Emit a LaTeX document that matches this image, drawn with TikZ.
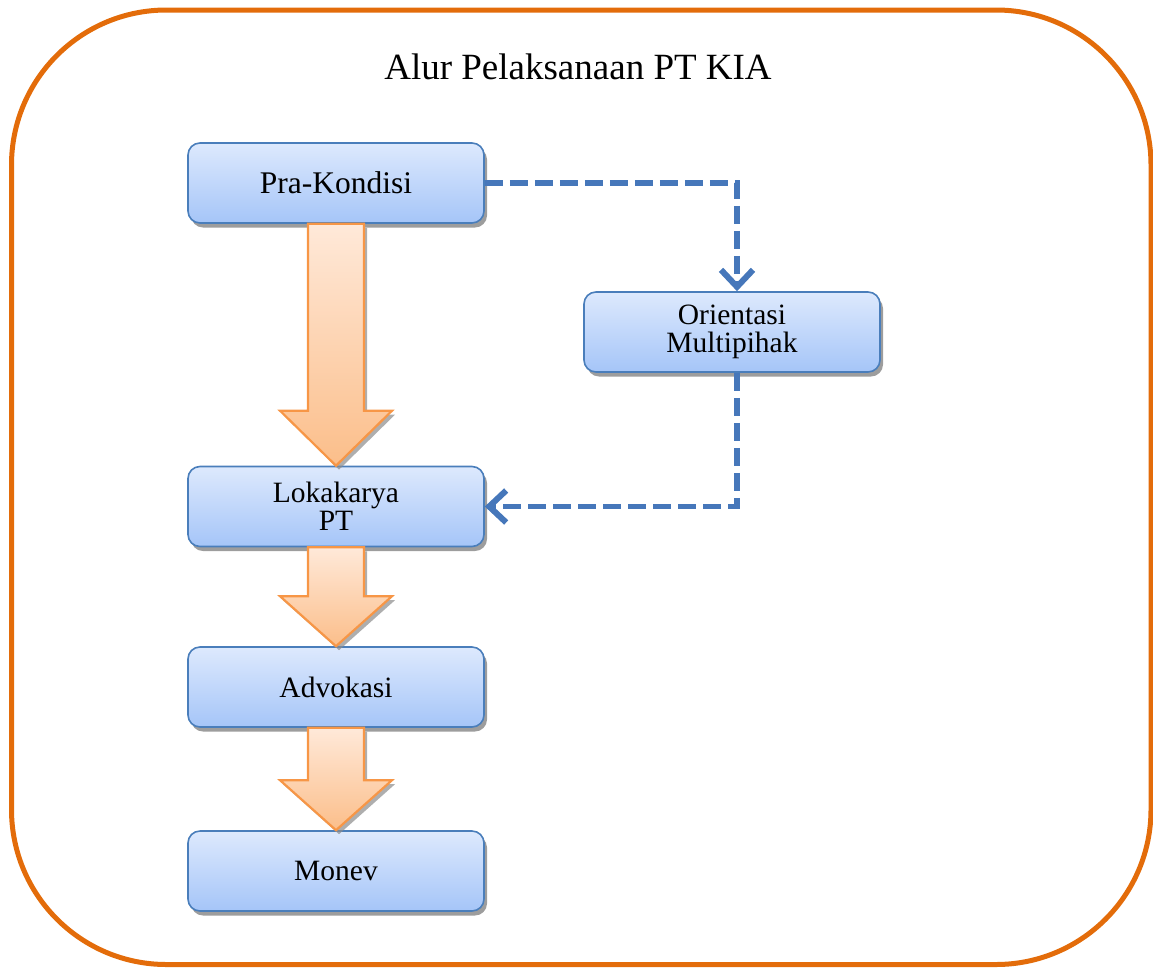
\documentclass[tikz,border=0pt]{standalone}
\usepackage{fontspec}
\setmainfont{Liberation Serif}
\usetikzlibrary{shadows,arrows.meta,calc}

\definecolor{frameorange}{HTML}{E36C0A}
\definecolor{boxline}{HTML}{4A7EBB}
\definecolor{boxtop}{HTML}{DDE9FD}
\definecolor{boxbottom}{HTML}{A5C5F8}
\definecolor{arrowline}{HTML}{F79646}
\definecolor{arrowtop}{HTML}{FFE9D9}
\definecolor{arrowbottom}{HTML}{FBBE8A}
\definecolor{dashblue}{HTML}{4677BA}

\tikzset{
  stepbox/.style={
    draw=boxline, line width=1.6pt, rounded corners=12pt,
    top color=boxtop, bottom color=boxbottom,
    minimum width=296pt, minimum height=80pt, inner sep=0pt,
    align=center, text=black, font=\fontsize{29.5}{28}\selectfont,
    drop shadow={shadow xshift=3pt, shadow yshift=-4.5pt, fill=black!45, opacity=0.85}
  },
  flowarrow/.style={
    draw=arrowline, line width=2.2pt, line join=miter,
    top color=arrowtop, bottom color=arrowbottom,
    drop shadow={shadow xshift=3pt, shadow yshift=-4pt, fill=black!45, opacity=0.7}
  },
  dashlink/.style={
    draw=dashblue, line width=5.5pt, dash pattern=on 18pt off 7pt,
    -{Straight Barb[length=17pt, width=32pt, line width=6pt]}
  }
}

% block arrow from the bottom of #1 to the top of #2, head length #3
\newcommand{\blockarrow}[3]{%
  \path[flowarrow] let \p1=(#1.south), \p2=(#2.north) in
    (\x1-28, \y1) -- (\x1+28, \y1) -- (\x1+28, \y2+#3) -- (\x1+56, \y2+#3)
    -- (\x1, \y2) -- (\x1-56, \y2+#3) -- (\x1-28, \y2+#3) -- cycle;
}

\begin{document}
\begin{tikzpicture}[x=1pt, y=-1pt]
  \useasboundingbox (0,0) rectangle (1153,967);

  % outer frame
  \begin{scope}
    \clip (0,0) rectangle (1153,967);
    \draw[frameorange, line width=5pt, rounded corners=155pt]
      (11.5,10) rectangle (1151,964.5);
  \end{scope}

  \node[font=\fontsize{37}{40}\selectfont, anchor=base] (title) at (578,79)
    {Alur Pelaksanaan PT KIA};

  % process steps
  \node[stepbox, font=\fontsize{31.5}{30}\selectfont] (pk) at (336,183) {Pra-Kondisi};
  \node[stepbox] (om) at (732,332) {Orientasi\\Multipihak};
  \node[stepbox] (lk) at (336,506.5) {Lokakarya\\PT};
  \node[stepbox] (ad) at (336,687) {Advokasi};
  \node[stepbox] (mo) at (336,871) {Monev};

  % main flow
  \blockarrow{pk}{lk}{55}
  \blockarrow{lk}{ad}{50}
  \blockarrow{ad}{mo}{50}

  % side branch
  \draw[dashlink] (pk.east) -| ([xshift=5pt]om.north);
  \draw[dashlink] ([xshift=5pt]om.south) |- (lk.east);
\end{tikzpicture}
\end{document}
